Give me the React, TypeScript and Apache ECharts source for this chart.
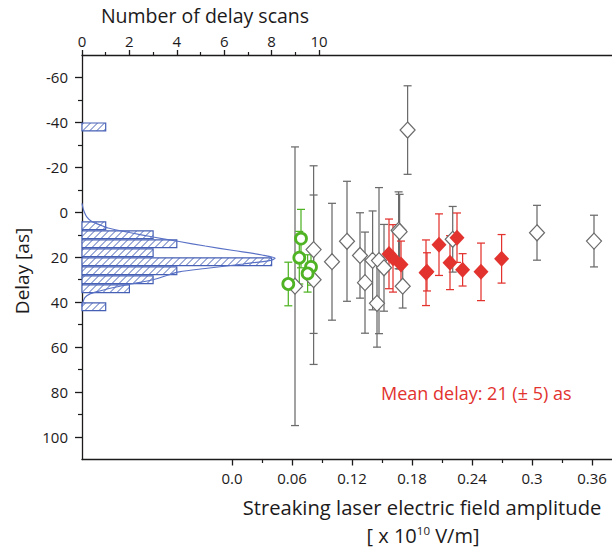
import React, { useEffect, useRef } from "react";
import * as echarts from "echarts";

// ---------- data ----------
const histBinStart = [-40, 4, 8, 12, 16, 20, 24, 28, 32, 40];
const histCounts = [1, 1, 3, 4, 3, 8, 4, 3, 2, 1];
const histBinWidth = 4;

const fitDelay = [-4, -2, 0, 2, 4, 6, 7, 9, 11, 13, 15, 17, 19, 20.5, 21.5, 23, 25, 26.5, 28, 30, 32, 34, 35, 36.5, 38, 40, 42];
const fitCount = [0, 0.04, 0.1, 0.2, 0.4, 0.85, 1.1, 2.0, 3.0, 4.1, 5.2, 6.4, 7.6, 8.15, 7.9, 6.8, 5.2, 4.1, 3.6, 3.0, 2.0, 1.1, 0.75, 0.3, 0.12, 0.04, 0];

const grayX = [0.063, 0.0816, 0.0816, 0.1, 0.115, 0.128, 0.133, 0.1406, 0.145, 0.147, 0.152, 0.1666, 0.1676, 0.1707, 0.1756, 0.2207, 0.305, 0.362];
const grayY = [32.9, 16.6, 30.0, 22.0, 12.9, 19.2, 31.3, 21.4, 40.5, 21.5, 24.7, 8.0, 8.6, 32.9, -36.6, 12.0, 9.1, 12.8];
const grayErr = [62, 37.3, 37.7, 26, 26.7, 19, 22.5, 22, 19.5, 32.5, 19.3, 17.1, 16.6, 9.7, 19.7, 14.6, 12.2, 11.5];

const redX = [0.157, 0.161, 0.169, 0.194, 0.195, 0.207, 0.218, 0.225, 0.2306, 0.249, 0.2696];
const redY = [18.5, 20.5, 23.2, 26.9, 26.5, 14.4, 22.4, 11.3, 25.6, 26.5, 20.7];
const redErr = [15.5, 15, 10.4, 14.6, 8.5, 13.7, 12, 11, 7.2, 12.8, 10.8];

const greenX = [0.0563, 0.069, 0.0673, 0.079, 0.0756];
const greenY = [31.9, 11.7, 20.2, 24.3, 27.2];
const greenErr = [9.7, 13, 11.7, 8.1, 8.3];

const bottomTicks = [0, 0.06, 0.12, 0.18, 0.24, 0.3, 0.36];
const bottomTickLabels = ["0.0", "0.06", "0.12", "0.18", "0.24", "0.3", "0.36"];
const bottomMinorTicks = [0.03, 0.09, 0.15, 0.21, 0.27, 0.33];
const topTicks = [0, 2, 4, 6, 8, 10];
const topMinorTicks = [1, 3, 5, 7, 9];
const leftTicks = [-60, -40, -20, 0, 20, 40, 60, 80, 100];
const leftMinorTicks = [-50, -30, -10, 10, 30, 50, 70, 90];

const FONT = '"Open Sans", sans-serif';
const AXIS = "#1c1a1b";
const GRAY = "#6b6b6b";
const RED = "#e2332f";
const GREEN = "#4fb324";
const BLUE = "#4660b5";

function makeHatch(): HTMLCanvasElement {
  const c = document.createElement("canvas");
  const s = 7;
  c.width = s;
  c.height = s;
  const ctx = c.getContext("2d")!;
  ctx.fillStyle = "#ffffff";
  ctx.fillRect(0, 0, s, s);
  ctx.strokeStyle = BLUE;
  ctx.lineWidth = 1;
  const lines = [
    [-3.5, 3.5, 3.5, -3.5],
    [-3.5, 7, 7, -3.5],
    [0, 10.5, 10.5, 0],
    [3.5, 10.5, 10.5, 3.5],
  ];
  ctx.beginPath();
  for (const [a, b, c2, d] of lines) {
    ctx.moveTo(a, b);
    ctx.lineTo(c2, d);
  }
  ctx.stroke();
  return c;
}

function errBarSeries(name: string, xs: number[], ys: number[], es: number[], color: string) {
  return {
    name,
    type: "custom",
    xAxisIndex: 0,
    yAxisIndex: 0,
    encode: { x: 0, y: 1 },
    data: xs.map((x, i) => [x, ys[i], es[i]]),
    renderItem: (_p: any, api: any) => {
      const x = api.value(0);
      const y = api.value(1);
      const e = api.value(2);
      const t = api.coord([x, y - e]);
      const b = api.coord([x, y + e]);
      const hw = 4;
      const st = { stroke: color, lineWidth: 1.25 };
      return {
        type: "group",
        children: [
          { type: "line", shape: { x1: t[0], y1: t[1], x2: b[0], y2: b[1] }, style: st },
          { type: "line", shape: { x1: t[0] - hw, y1: t[1], x2: t[0] + hw, y2: t[1] }, style: st },
          { type: "line", shape: { x1: b[0] - hw, y1: b[1], x2: b[0] + hw, y2: b[1] }, style: st },
        ],
      };
    },
    z: 3,
  };
}

export default function App() {
  const ref = useRef<HTMLDivElement>(null);
  useEffect(() => {
    if (!ref.current) return;
    const chart = echarts.init(ref.current, null, { renderer: "svg" });
    const hatch = makeHatch();
    const axisLine = { show: true, onZero: false, lineStyle: { color: AXIS, width: 1.3 } };
    const labelStyle = { fontFamily: FONT, fontSize: 15, color: AXIS };

    const option: any = {
      animation: false,
      grid: { left: 82, top: 55, width: 530, height: 404.5, containLabel: false },
      xAxis: [
        {
          type: "value",
          position: "bottom",
          min: -0.15,
          max: 0.38,
          axisLine,
          axisTick: { show: true, length: 6, customValues: bottomTicks, lineStyle: { color: AXIS, width: 1.3 } },
          axisLabel: {
            ...labelStyle,
            margin: 11,
            customValues: bottomTicks,
            formatter: (v: number) => {
              let best = 0;
              bottomTicks.forEach((t, i) => {
                if (Math.abs(t - v) < Math.abs(bottomTicks[best] - v)) best = i;
              });
              return bottomTickLabels[best];
            },
          },
          splitLine: { show: false },
        },
        {
          type: "value",
          position: "top",
          min: 0,
          max: 22.36,
          axisLine,
          axisTick: { show: true, length: 5, customValues: topTicks, lineStyle: { color: AXIS, width: 1.3 } },
          axisLabel: { ...labelStyle, margin: 7, customValues: topTicks },
          splitLine: { show: false },
        },
        {
          type: "value",
          position: "top",
          min: 0,
          max: 22.36,
          axisLine: { show: false, onZero: false },
          axisTick: { show: true, length: 3, customValues: topMinorTicks, lineStyle: { color: AXIS, width: 1.2 } },
          axisLabel: { show: false },
          splitLine: { show: false },
        },
        {
          type: "value",
          position: "bottom",
          min: -0.15,
          max: 0.38,
          axisLine: { show: false, onZero: false },
          axisTick: { show: true, length: 3.5, customValues: bottomMinorTicks, lineStyle: { color: AXIS, width: 1.2 } },
          axisLabel: { show: false },
          splitLine: { show: false },
        },
      ],
      yAxis: [
        {
          type: "value",
          position: "left",
          inverse: true,
          min: -70,
          max: 110,
          axisLine,
          axisTick: { show: true, length: 7, customValues: leftTicks, lineStyle: { color: AXIS, width: 1.3 } },
          axisLabel: { ...labelStyle, margin: 14, customValues: leftTicks },
          splitLine: { show: false },
        },
        {
          type: "value",
          position: "left",
          inverse: true,
          min: -70,
          max: 110,
          axisLine: { show: false, onZero: false },
          axisTick: { show: true, length: 4, customValues: leftMinorTicks, lineStyle: { color: AXIS, width: 1.2 } },
          axisLabel: { show: false },
          splitLine: { show: false },
        },
      ],
      series: [
        {
          type: "custom",
          name: "hist",
          xAxisIndex: 1,
          yAxisIndex: 0,
          encode: { x: 2, y: [0, 1] },
          data: histBinStart.map((s, i) => [s, s + histBinWidth, histCounts[i]]),
          renderItem: (_p: any, api: any) => {
            const lo = api.value(0);
            const hi = api.value(1);
            const c = api.value(2);
            const p0 = api.coord([0, lo]);
            const p1 = api.coord([c, hi]);
            const top = Math.min(p0[1], p1[1]) + 0.6;
            const h = Math.abs(p1[1] - p0[1]) - 1.2;
            return {
              type: "rect",
              shape: { x: p0[0], y: top, width: p1[0] - p0[0], height: h },
              style: {
                fill: { image: hatch, repeat: "repeat", imageWidth: 7, imageHeight: 7 },
                stroke: BLUE,
                lineWidth: 1.2,
              },
            };
          },
          z: 2,
        },
        {
          type: "line",
          name: "fit",
          xAxisIndex: 1,
          yAxisIndex: 0,
          data: fitDelay.map((d, i) => [fitCount[i], d]),
          smooth: 0.3,
          showSymbol: false,
          symbol: "none",
          lineStyle: { color: "#5a72c6", width: 1.2 },
          z: 2,
        },
        errBarSeries("grayErr", grayX, grayY, grayErr, GRAY),
        {
          type: "scatter",
          name: "gray",
          xAxisIndex: 0,
          yAxisIndex: 0,
          data: grayX.map((x, i) => [x, grayY[i]]),
          symbol: "diamond",
          symbolSize: [15, 16],
          itemStyle: { color: "#ffffff", borderColor: GRAY, borderWidth: 1.2, opacity: 1 },
          z: 4,
        },
        errBarSeries("redErr", redX, redY, redErr, RED),
        {
          type: "scatter",
          name: "red",
          xAxisIndex: 0,
          yAxisIndex: 0,
          data: redX.map((x, i) => [x, redY[i]]),
          symbol: "diamond",
          symbolSize: [15, 16],
          itemStyle: { color: RED, opacity: 1 },
          z: 5,
        },
        errBarSeries("greenErr", greenX, greenY, greenErr, GREEN),
        {
          type: "scatter",
          name: "green",
          xAxisIndex: 0,
          yAxisIndex: 0,
          data: greenX.map((x, i) => [x, greenY[i]]),
          symbol: "circle",
          symbolSize: 11,
          itemStyle: { color: "#ffffff", borderColor: GREEN, borderWidth: 2.8, opacity: 1 },
          z: 6,
        },
      ],
      graphic: [
        {
          type: "text",
          x: 205,
          y: 15,
          style: { text: "Number of delay scans", fontFamily: FONT, fontSize: 19.5, fill: AXIS, align: "center", verticalAlign: "middle" },
        },
        {
          type: "text",
          x: 22,
          y: 271,
          rotation: Math.PI / 2,
          style: { text: "Delay [as]", fontFamily: FONT, fontSize: 19, fill: AXIS, align: "center", verticalAlign: "middle" },
        },
        {
          type: "text",
          x: 422,
          y: 507,
          style: {
            text: "Streaking laser electric field amplitude",
            fontFamily: FONT,
            fontSize: 20.2,
            fill: AXIS,
            align: "center",
            verticalAlign: "middle",
          },
        },
        {
          type: "text",
          x: 423,
          y: 535,
          style: {
            text: "[ x 10{sup|10} V/m]",
            fontFamily: FONT,
            fontSize: 20,
            fill: AXIS,
            align: "center",
            verticalAlign: "middle",
            rich: {
              sup: { fontFamily: FONT, fontSize: 11.5, fill: AXIS, verticalAlign: "top", lineHeight: 22 },
            },
          },
        },
        {
          type: "text",
          x: 381,
          y: 393,
          style: { text: "Mean delay: 21 (± 5) as", fontFamily: FONT, fontSize: 18, fill: RED, align: "left", verticalAlign: "middle" },
        },
      ],
    };
    chart.setOption(option);
    return () => chart.dispose();
  }, []);
  return (
    <div
      ref={ref}
      style={{ position: "absolute", left: 0, top: 0, width: 612, height: 547, background: "#ffffff" }}
    />
  );
}
